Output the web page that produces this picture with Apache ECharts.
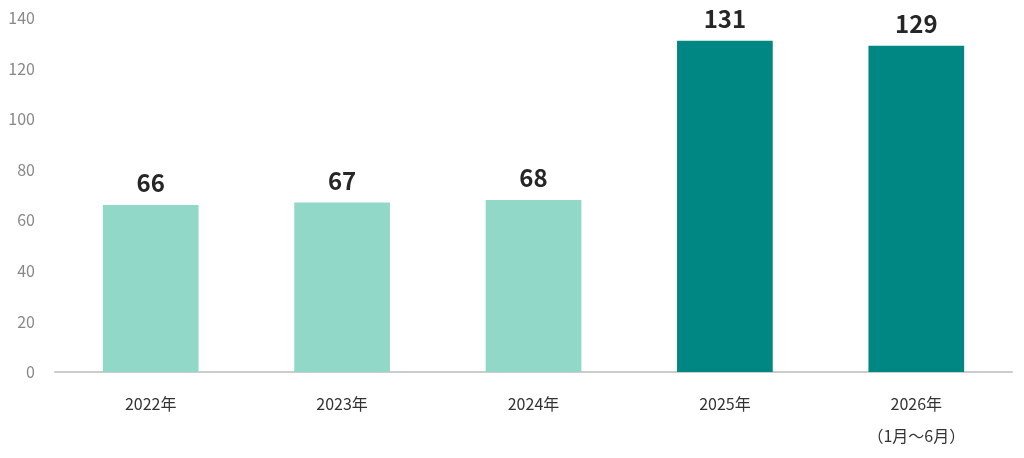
<!DOCTYPE html>
<html>
<head>
<meta charset="utf-8">
<script src="https://cdn.jsdelivr.net/npm/echarts@6/dist/echarts.min.js"></script>
<style>
  html, body { margin: 0; padding: 0; background: #fff; }
  #chart { width: 1024px; height: 458px; }
</style>
</head>
<body>
<div id="chart"></div>
<script>
    var categories = ['2022年', '2023年', '2024年', '2025年', '2026年\n（1月～6月）'];
    var values = [66, 67, 68, 131, 129];
    var barColors = ['#92d8c9', '#92d8c9', '#92d8c9', '#008784', '#008784'];
    var yTicks = [0, 20, 40, 60, 80, 100, 120, 140];

    var font = '"Noto Sans CJK JP", "Noto Sans", sans-serif';

    var chart = echarts.init(document.getElementById('chart'));

    var option = {
        animation: false,
        grid: {
            left: 55,
            right: 12,
            top: 18,
            bottom: 86
        },
        xAxis: {
            type: 'category',
            data: categories,
            axisLine: { lineStyle: { color: '#cccccc', width: 2 } },
            axisTick: { show: false },
            axisLabel: {
                color: '#333333',
                fontSize: 16,
                fontFamily: font,
                lineHeight: 32,
                margin: 16
            }
        },
        yAxis: {
            type: 'value',
            min: yTicks[0],
            max: yTicks[yTicks.length - 1],
            interval: 20,
            splitLine: { show: false },
            axisLine: { show: false },
            axisTick: { show: false },
            axisLabel: {
                color: '#888888',
                fontSize: 16,
                fontFamily: font,
                margin: 20
            }
        },
        series: [{
            type: 'bar',
            barWidth: '50%',
            data: values.map(function (v, i) {
                return { value: v, itemStyle: { color: barColors[i] } };
            }),
            label: {
                show: true,
                position: 'top',
                distance: 10,
                color: '#262626',
                fontSize: 24,
                fontWeight: 'bold',
                fontFamily: font
            }
        }]
    };

    chart.setOption(option);
</script>
</body>
</html>
